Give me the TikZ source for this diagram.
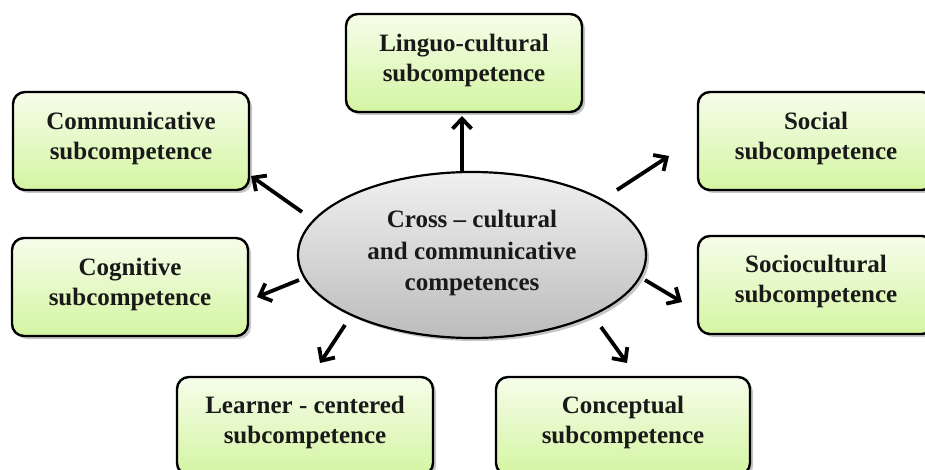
\documentclass[tikz,border=0pt]{standalone}
\usepackage{fontspec}
\setmainfont{Liberation Serif}
\usetikzlibrary{shapes.geometric,shadows,arrows.meta,calc}
\definecolor{boxtop}{RGB}{246,253,234}
\definecolor{boxbot}{RGB}{212,245,162}
\definecolor{elltop}{RGB}{240,240,240}
\definecolor{ellbot}{RGB}{188,188,188}
\begin{document}
\begin{tikzpicture}[x=1pt,y=-1pt,
  subbox/.style={draw=black, line width=2.4pt, rounded corners=12pt,
    minimum width=236pt, minimum height=98pt, inner sep=0pt,
    top color=boxtop, bottom color=boxbot,
    drop shadow={opacity=0.45, shadow xshift=3pt, shadow yshift=-3pt}},
  lbl/.style={align=center, inner sep=0pt, font=\fontsize{25}{30}\selectfont\bfseries, text=black!90},
  centre/.style={ellipse, draw=black, line width=2.2pt, minimum width=348pt, minimum height=166pt,
    inner sep=0pt, top color=elltop, bottom color=ellbot,
    drop shadow={opacity=0.45, shadow xshift=3pt, shadow yshift=-3pt}},
  arr/.style={line width=3.8pt, -{Straight Barb[length=10pt, width=19pt, line width=3.8pt]}}]
\useasboundingbox (0,0) rectangle (925,470);
\fill[white] (0,0) rectangle (925,470);

\node[centre] (ell) at (472,255) {};
\node[lbl, font=\fontsize{25}{31.5}\selectfont\bfseries] (ellT) at ($(ell.center)+(0,-2)$) {Cross -- cultural\\and communicative\\competences};

\node[subbox] (ling) at (464,63) {};
\node[subbox] (comm) at (131,141) {};
\node[subbox] (soc) at (816,141) {};
\node[subbox] (cog) at (130,287) {};
\node[subbox] (socc) at (816,285) {};
\node[subbox, minimum width=256pt] (learn) at (305,426) {};
\node[subbox, minimum width=254pt] (conc) at (623,426) {};

\node[lbl] (lingT) at ($(ling.center)+(0,-3)$) {Linguo-cultural\\subcompetence};
\node[lbl] (commT) at ($(comm.center)+(0,-3)$) {Communicative\\subcompetence};
\node[lbl] (socT) at ($(soc.center)+(0,-3)$) {Social\\subcompetence};
\node[lbl] (cogT) at ($(cog.center)+(0,-3)$) {Cognitive\\subcompetence};
\node[lbl] (soccT) at ($(socc.center)+(0,-4)$) {Sociocultural\\subcompetence};
\node[lbl] (learnT) at ($(learn.center)+(0,-4)$) {Learner - centered\\subcompetence};
\node[lbl] (concT) at ($(conc.center)+(0,-4)$) {Conceptual\\subcompetence};

\coordinate (t1) at (462,173); \coordinate (h1) at (462,116);
\coordinate (t2) at (302,212); \coordinate (h2) at (251,176);
\coordinate (t3) at (617,190); \coordinate (h3) at (669,156);
\coordinate (t4) at (299,280); \coordinate (h4) at (257,297);
\coordinate (t5) at (645,280); \coordinate (h5) at (682,302);
\coordinate (t6) at (345,325); \coordinate (h6) at (320,363);
\coordinate (t7) at (601,327); \coordinate (h7) at (627,363);

\draw[arr] (t1) -- (h1);
\draw[arr] (t2) -- (h2);
\draw[arr] (t3) -- (h3);
\draw[arr] (t4) -- (h4);
\draw[arr] (t5) -- (h5);
\draw[arr] (t6) -- (h6);
\draw[arr] (t7) -- (h7);
\end{tikzpicture}
\end{document}
